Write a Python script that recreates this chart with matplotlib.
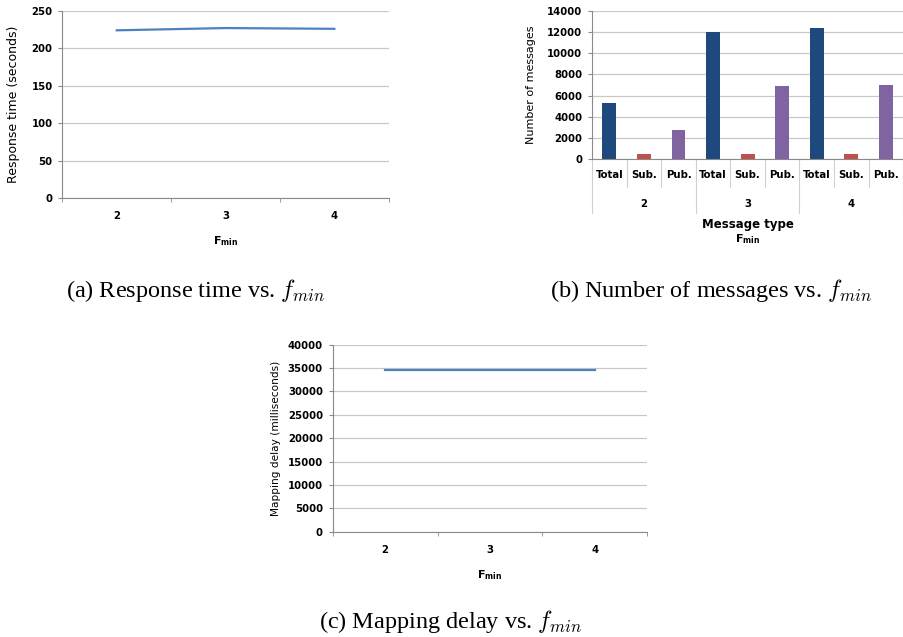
import numpy as np
import matplotlib
matplotlib.use("Agg")
import matplotlib.pyplot as plt
import matplotlib.transforms as mtransforms

# data
fmin = ["2", "3", "4"]
resp_time = [224, 227, 226]
map_delay = [34500, 34500, 34500]
msg_types = ["Total", "Sub.", "Pub."]
msg_total = [5300, 12050, 12350]
msg_sub = [450, 450, 450]
msg_pub = [2800, 6950, 7000]

line_col = "#4F81BD"
bar_cols = ["#1F497D", "#C0504D", "#8064A2"]
grid_col = "#c8c8c8"
axis_col = "#8a8a8a"

plt.rcParams["font.family"] = "DejaVu Sans"

fig = plt.figure(figsize=(9.04, 6.37), dpi=100)


def excel_style(ax):
    ax.spines["top"].set_visible(False)
    ax.spines["right"].set_visible(False)
    ax.spines["left"].set_color(axis_col)
    ax.spines["bottom"].set_color(axis_col)
    ax.yaxis.grid(True, color=grid_col, lw=0.9)
    ax.set_axisbelow(True)
    ax.tick_params(axis="y", length=3, color=axis_col, labelsize=7.3, pad=4)
    for lab in ax.get_yticklabels():
        lab.set_fontweight("bold")


def fmin_label(ax, y):
    ax.text(0.5, y, r"$\mathbf{F}_{\mathbf{min}}$", transform=ax.transAxes,
            ha="center", va="center", fontsize=8, math_fontfamily="dejavusans")


def line_panel(rect, vals, ymax, ystep, ylabel, ylab_x, ylab_size):
    ax = fig.add_axes(rect)
    x = np.arange(1, len(fmin) + 1)
    ax.plot(x, vals, color=line_col, lw=1.6)
    ax.set_xlim(0.5, len(fmin) + 0.5)
    ax.set_ylim(0, ymax)
    ax.set_yticks(np.arange(0, ymax + 1, ystep))
    ax.set_xticks(x)
    ax.set_xticklabels(fmin, fontsize=7.3, fontweight="bold")
    ax.set_xticks(np.arange(0.5, len(fmin) + 1, 1), minor=True)
    ax.tick_params(axis="x", which="major", length=0, pad=9.5)
    ax.tick_params(axis="x", which="minor", length=3, color=axis_col)
    excel_style(ax)
    ax.set_ylabel(ylabel, fontsize=ylab_size)
    ax.yaxis.set_label_coords(ylab_x, 0.5)
    fmin_label(ax, -0.23)
    return ax


# (a) response time
line_panel([0.069, 0.689, 0.361, 0.294], resp_time, 250, 50,
           "Response time (seconds)", -0.13, 9)

# (c) mapping delay
line_panel([0.368, 0.165, 0.348, 0.294], map_delay, 40000, 5000,
           "Mapping delay (milliseconds)", -0.165, 7.6)

# (b) number of messages
axb = fig.add_axes([0.655, 0.750, 0.344, 0.233])
ntype = len(msg_types)
series = [msg_total, msg_sub, msg_pub]
xs, hs, cs, labs = [], [], [], []
for g in range(len(fmin)):
    for t in range(ntype):
        xs.append(g * ntype + t)
        hs.append(series[t][g])
        cs.append(bar_cols[t])
        labs.append(msg_types[t])
axb.bar(xs, hs, width=0.4, color=cs)
axb.set_xlim(-0.5, len(xs) - 0.5)
axb.set_ylim(0, 14000)
axb.set_yticks(np.arange(0, 14001, 2000))
axb.set_xticks(xs)
axb.set_xticklabels(labs, fontsize=7.3, fontweight="bold")
axb.tick_params(axis="x", length=0, pad=8)
excel_style(axb)
axb.set_ylabel("Number of messages", fontsize=8)
axb.yaxis.set_label_coords(-0.18, 0.5)

trans = mtransforms.blended_transform_factory(axb.transData, axb.transAxes)
for k in range(len(xs) + 1):
    bx = k - 0.5
    depth = -0.36 if k % ntype == 0 else -0.19
    axb.plot([bx, bx], [0, depth], color="#d0d0d0", lw=0.8,
             transform=trans, clip_on=False)
for g, name in enumerate(fmin):
    axb.text(g * ntype + (ntype - 1) / 2, -0.30, name, transform=trans,
             ha="center", va="center", fontsize=7.3, fontweight="bold")
axb.text(0.5, -0.44, "Message type", transform=axb.transAxes,
         ha="center", va="center", fontsize=8.5, fontweight="bold")
fmin_label(axb, -0.54)

# captions
cap_kw = dict(ha="center", va="center", fontsize=17.5, family="Liberation Serif",
              math_fontfamily="cm")
fig.text(0.216, 0.544, r"(a) Response time vs. $f_{min}$", **cap_kw)
fig.text(0.786, 0.544, r"(b) Number of messages vs. $f_{min}$", **cap_kw)
fig.text(0.499, 0.024, r"(c) Mapping delay vs. $f_{min}$", **cap_kw)

fig.savefig("out.png", dpi=100)
